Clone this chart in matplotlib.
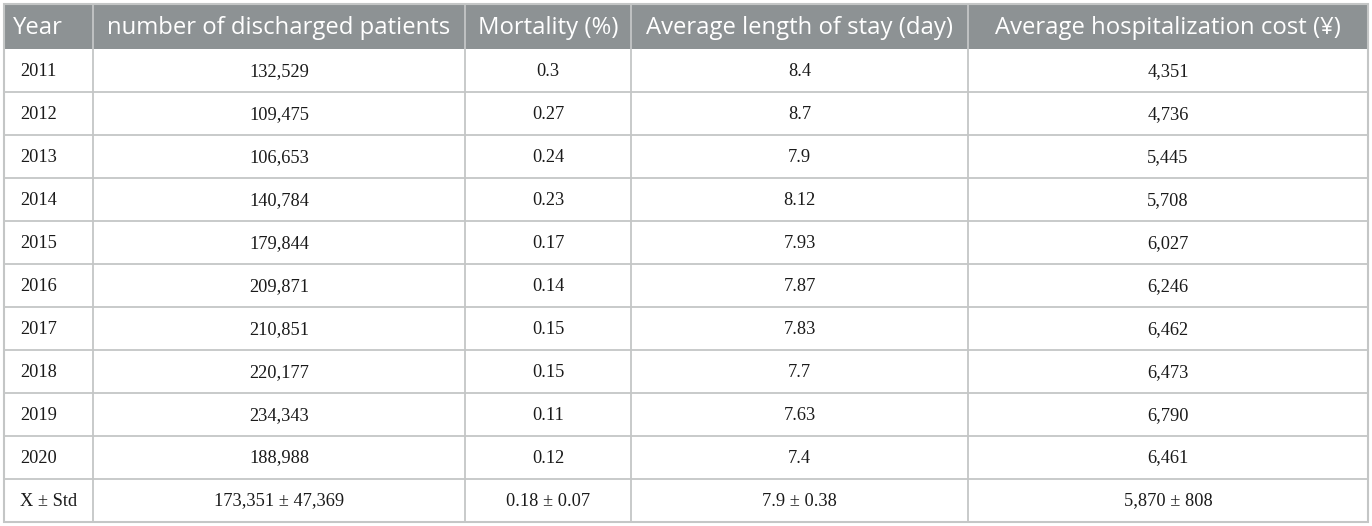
import matplotlib
matplotlib.use("Agg")
import matplotlib.pyplot as plt
from matplotlib.patches import Rectangle

# table content
headers = ["Year", "number of discharged patients", "Mortality (%)",
           "Average length of stay (day)", "Average hospitalization cost (\u00a5)"]
years = ["2011", "2012", "2013", "2014", "2015", "2016", "2017", "2018", "2019", "2020"]
discharged = [132529, 109475, 106653, 140784, 179844, 209871, 210851, 220177, 234343, 188988]
mortality = ["0.3", "0.27", "0.24", "0.23", "0.17", "0.14", "0.15", "0.15", "0.11", "0.12"]
stay = ["8.4", "8.7", "7.9", "8.12", "7.93", "7.87", "7.83", "7.7", "7.63", "7.4"]
cost = [4351, 4736, 5445, 5708, 6027, 6246, 6462, 6473, 6790, 6461]
summary = ["X \u00b1 Std", "173,351 \u00b1 47,369", "0.18 \u00b1 0.07", "7.9 \u00b1 0.38", "5,870 \u00b1 808"]

W, H = 1372, 526
col_edges = [4, 93, 465, 631, 968, 1368]
top, header_bottom, bottom = 4, 49, 521.5
header_color = "#8d9294"
line_color = "#c4c6c6"

rows = []
for i in range(len(years)):
    rows.append([years[i], f"{discharged[i]:,}", mortality[i], stay[i], f"{cost[i]:,}"])
rows.append(summary)

fig = plt.figure(figsize=(W / 100, H / 100), dpi=100)
ax = fig.add_axes([0, 0, 1, 1])
ax.set_xlim(0, W)
ax.set_ylim(H, 0)
ax.axis("off")

# header band
ax.add_patch(Rectangle((col_edges[0], top), col_edges[-1] - col_edges[0],
                       header_bottom - top, facecolor=header_color, edgecolor="none"))

row_h = (bottom - header_bottom) / len(rows)

for j, h in enumerate(headers):
    x0, x1 = col_edges[j], col_edges[j + 1]
    yc = (top + header_bottom) / 2 + 1
    if j == 0:
        ax.text(x0 + 9, yc, h, ha="left", va="center", color="white",
                fontsize=17.2, family="Open Sans")
    else:
        ax.text((x0 + x1) / 2, yc, h, ha="center", va="center", color="white",
                fontsize=17.2, family="Open Sans")

for i, row in enumerate(rows):
    yc = header_bottom + (i + 0.5) * row_h + 1
    for j, val in enumerate(row):
        x0, x1 = col_edges[j], col_edges[j + 1]
        if j == 0:
            ax.text(x0 + 16, yc, val, ha="left", va="center", color="#1a1a1a",
                    fontsize=13.2, family="Liberation Serif")
        else:
            ax.text((x0 + x1) / 2, yc, val, ha="center", va="center", color="#1a1a1a",
                    fontsize=13.2, family="Liberation Serif")

# grid lines
for i in range(1, len(rows)):
    y = header_bottom + i * row_h
    ax.plot([col_edges[0], col_edges[-1]], [y, y], color=line_color, lw=1.3)
for x in col_edges[1:-1]:
    ax.plot([x, x], [top, bottom], color=line_color, lw=1.3)
ax.add_patch(Rectangle((col_edges[0], top), col_edges[-1] - col_edges[0], bottom - top,
                       facecolor="none", edgecolor=line_color, lw=1.5))

fig.savefig("out.png", dpi=100)
